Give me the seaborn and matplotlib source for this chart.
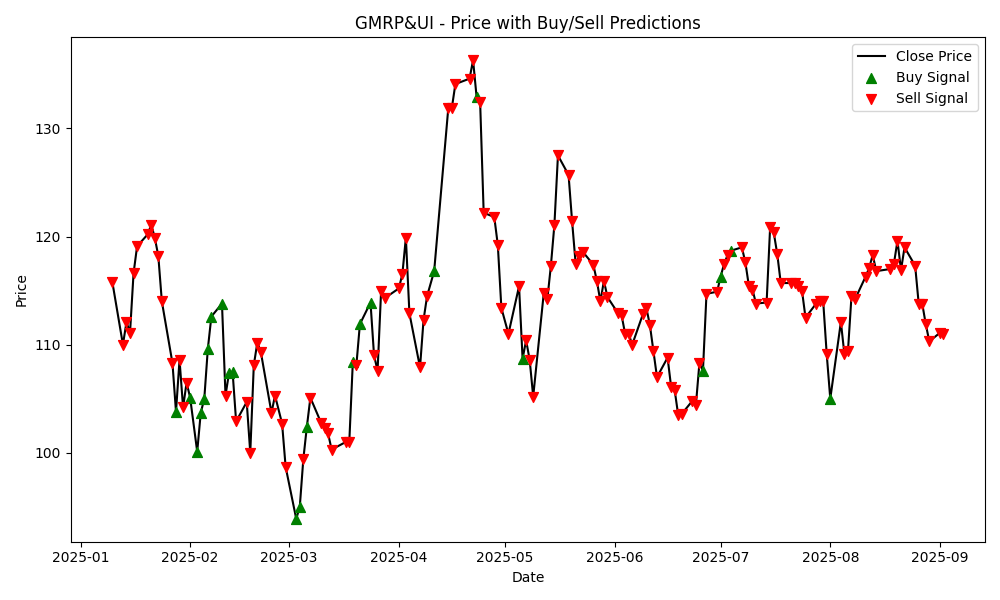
import numpy as np
import pandas as pd
import matplotlib
matplotlib.use("Agg")
import matplotlib.pyplot as plt
import seaborn as sns

holidays = ["2025-02-26", "2025-03-14", "2025-03-31", "2025-04-10", "2025-04-14",
            "2025-04-18", "2025-05-01", "2025-08-15"]
extra_days = ["2025-02-01"]

close = [
    115.8, 110.0, 112.1, 111.1, 116.6, 119.1, 120.2, 121.1, 119.9, 118.2, 114.0,
    108.3, 103.8, 108.6, 104.2, 106.5, 105.1,
    100.1, 103.7, 105.0, 109.6, 112.6, 113.8, 105.3, 107.4, 107.5, 102.9,
    104.7, 100.0, 108.1, 110.2, 109.3, 103.7, 105.3, 102.7, 98.7,
    93.9, 95.0, 99.4, 102.4, 105.1, 102.8, 102.3, 101.8, 100.3, 101.0, 101.0,
    108.4, 108.1, 111.9, 113.9, 109.0, 107.6, 115.0, 114.3,
    115.2, 116.5, 119.9, 112.9, 107.9, 112.3, 114.5, 116.8, 131.9, 131.9, 134.1,
    134.6, 136.3, 132.9, 132.4, 122.2, 121.8, 119.2, 113.4,
    111.0, 115.4, 108.7, 110.4, 108.6, 105.2, 114.8, 114.2, 117.3, 121.1, 127.5,
    125.7, 121.4, 117.5, 118.2, 118.6, 117.4, 115.9, 114.0, 115.9, 114.4,
    112.9, 112.7, 111.0, 111.0, 110.0, 112.8, 113.4, 111.8, 109.4, 107.0,
    108.8, 106.1, 105.8, 103.5, 103.6, 104.8, 104.4, 108.3, 107.6, 114.7, 114.9,
    116.3, 117.5, 118.3, 118.7, 119.0, 117.6, 115.4, 115.1, 113.8, 113.9, 120.9,
    120.4, 118.4, 115.7, 115.7, 115.7, 115.4, 115.0, 112.5, 113.8, 114.0, 114.0, 109.1,
    105.0, 112.1, 109.1, 109.4, 114.5, 114.2, 116.3, 117.1, 118.3, 116.8,
    117.0, 117.5, 119.6, 116.9, 119.0, 117.3, 113.8, 113.8, 111.9, 110.3,
    111.1, 111.0,
]

signals = (
    "SSSSSSSSSSS" "SBSSSB"
    "BBBBBBSBBS"
    "SSSSSSSSS"
    "BBSBSSSSSSS"
    "BSBBSSSS"
    "SSSSSSSBSSS"
    "SSBSSSSS"
    "SSBSSSSSSS"
    "SSSSSSSSSS"
    "SSSSSSSSSS"
    "SSSSSSSSSBS"
    "SBSSBSSSSSS"
    "SSSSSSSSSSSSS"
    "BSSSSSSSSS"
    "SSSSSSSSSS"
    "SS"
)

dates = pd.bdate_range("2025-01-10", "2025-09-02", freq="C", holidays=holidays)
dates = dates.union(pd.to_datetime(extra_days))
n = min(len(dates), len(close), len(signals))
df = pd.DataFrame({"Date": dates[:n], "Close": close[:n], "Signal": list(signals[:n])})

fig, ax = plt.subplots(figsize=(10, 6), dpi=100)
sns.lineplot(data=df, x="Date", y="Close", color="black", linewidth=1.5,
             label="Close Price", ax=ax)
buy = df[df["Signal"] == "B"]
sell = df[df["Signal"] == "S"]
ax.scatter(buy["Date"], buy["Close"], marker="^", color="green", s=50,
           label="Buy Signal", zorder=3)
ax.scatter(sell["Date"], sell["Close"], marker="v", color="red", s=50,
           label="Sell Signal", zorder=3)
ax.set_title("GMRP&UI - Price with Buy/Sell Predictions")
ax.set_xlabel("Date")
ax.set_ylabel("Price")
ax.legend(loc="upper right")
fig.tight_layout()
fig.savefig("out.png")
